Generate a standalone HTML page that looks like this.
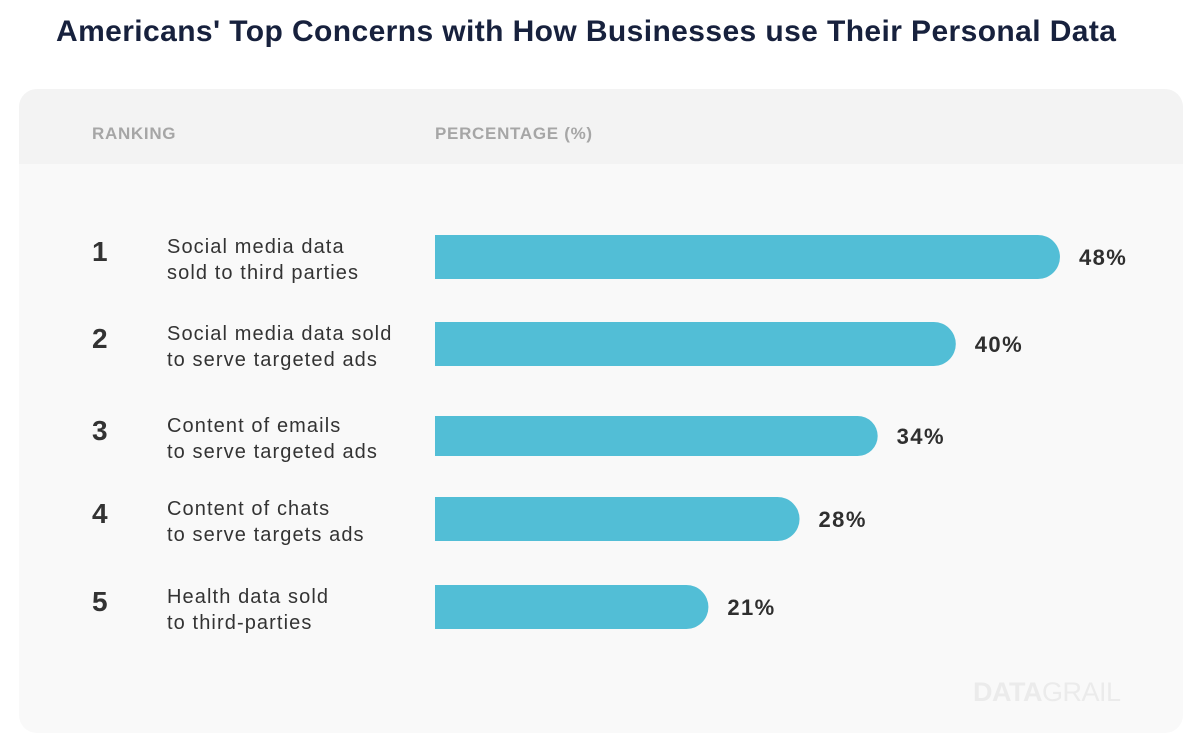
<!DOCTYPE html>
<html><head><meta charset="utf-8"><style>
body{margin:0;width:1200px;height:756px;background:#fff;font-family:"Liberation Sans",sans-serif;position:relative;overflow:hidden}
.title{position:absolute;left:56px;top:15px;font-size:30px;font-weight:bold;color:#17213d;letter-spacing:0.4px;white-space:nowrap}
.panel{position:absolute;left:19px;top:89px;width:1164px;height:644px;border-radius:18px;background:#f9f9f9;overflow:hidden}
.head{position:absolute;left:0;top:0;width:100%;height:75px;background:#f3f3f3}
.hl{position:absolute;top:35px;font-size:17px;font-weight:bold;color:#a6a6a6;letter-spacing:0.7px}
.wm{position:absolute;left:954px;top:588px;font-size:27px;color:#ebebeb;letter-spacing:-0.5px}
svg{position:absolute;left:0;top:0}
</style></head><body>
<div class="title">Americans' Top Concerns with How Businesses use Their Personal Data</div>
<div class="panel">
<div class="head"></div>
<div class="hl" style="left:73px">RANKING</div>
<div class="hl" style="left:416px">PERCENTAGE (%)</div>
<div class="wm"><b>DATA</b>GRAIL</div>
</div>
<svg id="chart" width="1200" height="756"></svg>
<script>
const ranks=["1","2","3","4","5"];
const line1=["Social media data","Social media data sold","Content of emails","Content of chats","Health data sold"];
const line2=["sold to third parties","to serve targeted ads","to serve targeted ads","to serve targets ads","to third-parties"];
const values=[48,40,34,28,21];
const ns="http://www.w3.org/2000/svg";
const svg=document.getElementById('chart');
const x0=435, pxPer=13.02;
const centers=[257,344,436,519,607];
function xs(v){return x0+v*pxPer;}
function mk(t,a,txt){const e=document.createElementNS(ns,t);for(const k in a)e.setAttribute(k,a[k]);if(txt!==undefined)e.textContent=txt;svg.appendChild(e);return e;}
values.forEach((v,i)=>{
 const c=centers[i], h=(i==2?40:44), w=xs(v)-x0;
 const p=mk('path',{d:`M${x0} ${c-h/2}H${x0+w-h/2}A${h/2} ${h/2} 0 0 1 ${x0+w-h/2} ${c+h/2}H${x0}Z`,fill:'#52bed6'});
 
 
 const vl=mk('text',{x:xs(v)+19,y:c+8,'font-size':22,'font-weight':'bold',fill:'#2f2f2f','font-family':'Liberation Sans','letter-spacing':1.4},v+'%');
 
 
 const r=mk('text',{x:92,y:c+4,'font-size':28,'font-weight':'bold',fill:'#333','font-family':'Liberation Sans'},ranks[i]);
 
 
 const a=mk('text',{x:167,y:c-4,'font-size':20,fill:'#333','font-family':'Liberation Sans','letter-spacing':1.1},line1[i]);
 
 
 const b=mk('text',{x:167,y:c+22,'font-size':20,fill:'#333','font-family':'Liberation Sans','letter-spacing':1.1},line2[i]);
 
 
});
</script>
</body></html>
